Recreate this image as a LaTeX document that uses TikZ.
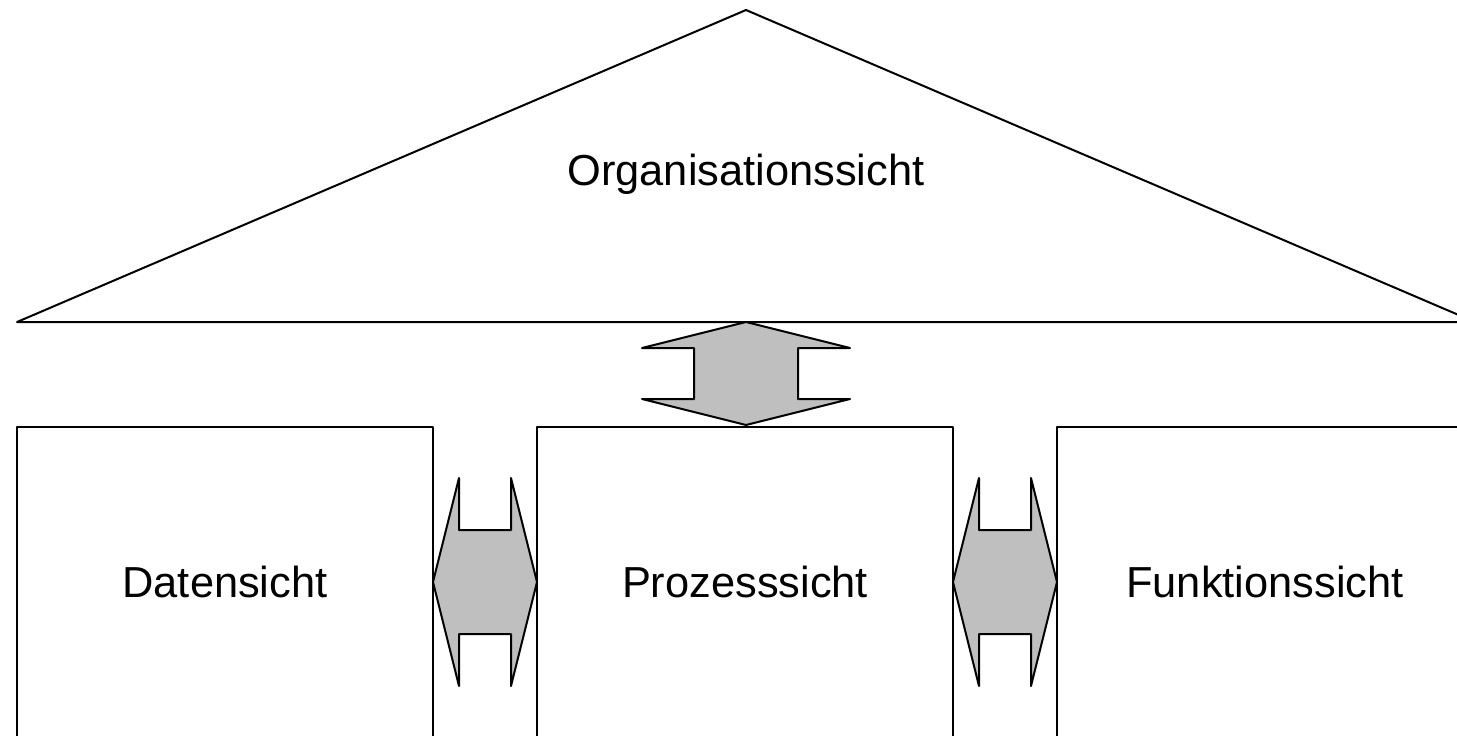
\documentclass[tikz,border=0pt]{standalone}
\usepackage{fontspec}
\setmainfont{Liberation Sans}

\begin{document}
\begin{tikzpicture}[x=0.5pt,y=-0.5pt,line width=1pt,line join=round,
                    view/.style={font=\fontsize{21.7}{26}\selectfont,inner sep=0pt,anchor=base},
                    link/.style={draw,fill=black!25}]
  \useasboundingbox (0,0) rectangle (1457,735);
  \clip (0,0) rectangle (1457,735);

  % roof
  \draw (17,322) -- (746,10) -- (1475,322) -- cycle;
  \node[view] (orga) at (746,185) {Organisationssicht};

  % the three pillars
  \draw (17,760) |- (433,427) -- (433,760);
  \draw (537,760) |- (953,427) -- (953,760);
  \draw (1057,760) |- (1477,427) -- (1477,760);
  \node[view] (daten) at (225,597) {Datensicht};
  \node[view] (prozess) at (745,597) {Prozesssicht};
  \node[view] (funktion) at (1265,597) {Funktionssicht};

  % roof <-> process
  \path[link] (746,322) -- (850,348) -- (798,348) -- (798,399) -- (850,399)
    -- (746,425) -- (642,399) -- (694,399) -- (694,348) -- (642,348) -- cycle;

  % pillar <-> process
  \foreach \x in {485,1005}
    \path[link,shift={(\x,582)}] (-52,0) -- (-26,-104) -- (-26,-52) -- (26,-52) -- (26,-104)
      -- (52,0) -- (26,104) -- (26,52) -- (-26,52) -- (-26,104) -- cycle;
\end{tikzpicture}
\end{document}
